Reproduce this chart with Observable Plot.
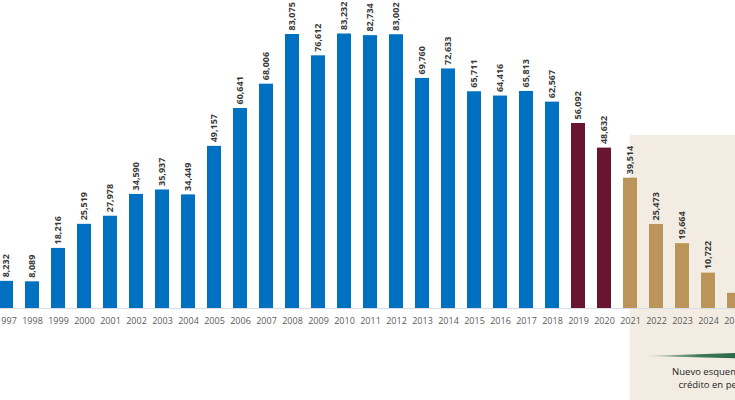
<!DOCTYPE html>
<html><head><meta charset="utf-8">
<script src="https://cdn.jsdelivr.net/npm/d3@7"></script>
<script src="https://cdn.jsdelivr.net/npm/@observablehq/plot@0.6"></script>
<style>
body{margin:0;overflow:hidden;background:#fff}
#chart svg{overflow:hidden;display:block}
</style>
</head><body><div id="chart"></div>
<script>
const years = ["1997","1998","1999","2000","2001","2002","2003","2004","2005","2006","2007","2008","2009","2010","2011","2012","2013","2014","2015","2016","2017","2018","2019","2020","2021","2022","2023","2024","2025"];
const values = [8232,8089,18216,25519,27978,34590,35937,34449,49157,60641,68006,83075,76612,83232,82734,83002,69760,72633,65711,64416,65813,62567,56092,48632,39514,25473,19664,10722,4600];
const periods = ["p1","p1","p1","p1","p1","p1","p1","p1","p1","p1","p1","p1","p1","p1","p1","p1","p1","p1","p1","p1","p1","p1","p2","p2","p3","p3","p3","p3","p3"];
// the 2025 value is estimated from the bar height; its label is outside the visible crop
const labelShown = years.map(y => y !== "2025");
const periodNames = ["p1","p2","p3"];
const periodColors = ["#0070c0","#6a1530","#bb9459"];
const shadeFrom = "2021";
const shadeTopValue = 52500;
const noteLines = ["Nuevo esquema de", "crédito en pesos"];

const data = years.map((y, i) => ({year: y, value: values[i], period: periods[i], show: labelShown[i]}));
const fmt = d3.format(",");

function shade(index, scales, vals, dim) {
  const bw = scales.x.bandwidth ? scales.x.bandwidth() : 0;
  const x0 = scales.x(shadeFrom) + bw / 2;
  const y0 = scales.y(shadeTopValue);
  const g = d3.create("svg:g");
  g.append("rect").attr("x", x0).attr("y", y0)
    .attr("width", dim.width - x0 + 40).attr("height", dim.height - y0 + 10)
    .attr("fill", "#f3ece2");
  return g.node();
}

function note(index, scales, vals, dim) {
  const bw = scales.x.bandwidth ? scales.x.bandwidth() : 0;
  const base = scales.y(0);
  const xs = scales.x(shadeFrom) + bw / 2;
  const xc = scales.x("2024") + bw / 2 + 7;
  const g = d3.create("svg:g");
  const defs = g.append("defs");
  const grad = defs.append("linearGradient").attr("id", "wedgeGrad")
    .attr("x1", "0%").attr("x2", "100%").attr("y1", "0%").attr("y2", "0%");
  grad.append("stop").attr("offset", "0%").attr("stop-color", "#d4dcd2");
  grad.append("stop").attr("offset", "45%").attr("stop-color", "#3f7a57");
  grad.append("stop").attr("offset", "100%").attr("stop-color", "#1f5a3a");
  const ym = base + 48;
  const xl = xs + 15, xr = dim.width + 30;
  g.append("polygon")
    .attr("points", `${xl},${ym} ${xr},${ym - 4} ${xr},${ym + 3}`)
    .attr("fill", "url(#wedgeGrad)");
  noteLines.forEach((t, i) => {
    g.append("text").attr("x", xc).attr("y", base + 67 + i * 13)
      .attr("text-anchor", "middle").attr("font-size", 9.5)
      .attr("font-family", "'Open Sans', sans-serif").attr("fill", "#1e1e1e")
      .text(t);
  });
  return g.node();
}

const chart = Plot.plot({
  width: 735,
  height: 400,
  marginTop: 34,
  marginBottom: 92,
  marginLeft: 0,
  marginRight: 0,
  style: {fontFamily: "'Open Sans', sans-serif", background: "white"},
  x: {domain: years, range: [-11.14, 751.14], paddingInner: 0.45, paddingOuter: 0.225, label: null},
  y: {domain: [0, 83075], axis: null},
  color: {domain: periodNames, range: periodColors},
  marks: [
    shade,
    Plot.barY(data, {x: "year", y: "value", fill: "period"}),
    Plot.ruleY([0], {stroke: "#d6dde6"}),
    Plot.axisX({tickSize: 0, tickPadding: 9, fontSize: 9, fill: "#5a5a5a", label: null}),
    Plot.text(data, {filter: "show", x: "year", y: "value", text: d => fmt(d.value), rotate: -90, textAnchor: "start", dy: -4, fontSize: 9, fontWeight: 700, fill: "#3a3a3a"}),
    note
  ]
});
document.getElementById("chart").append(chart);
</script>
</body></html>
